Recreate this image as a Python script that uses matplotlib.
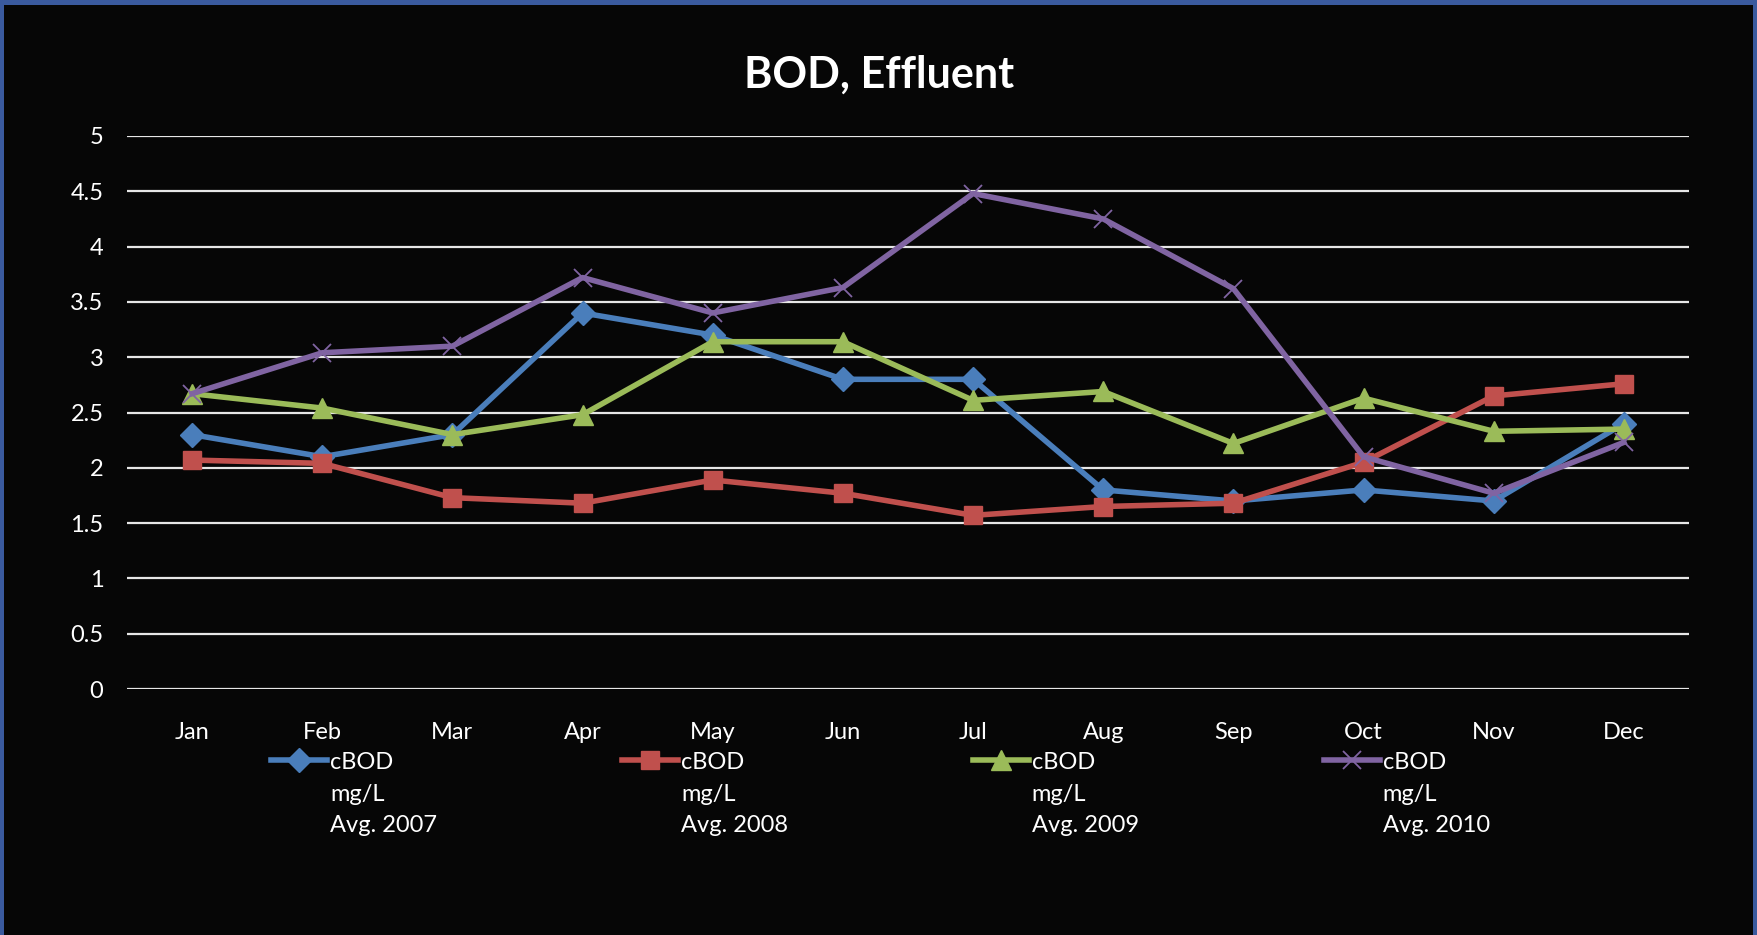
#!/usr/bin/env python3
"""BOD, Effluent - monthly cBOD averages 2007-2010."""
import matplotlib

matplotlib.use("Agg")
import matplotlib.pyplot as plt
from matplotlib.patches import Rectangle
from matplotlib.ticker import FuncFormatter

months = ["Jan", "Feb", "Mar", "Apr", "May", "Jun",
          "Jul", "Aug", "Sep", "Oct", "Nov", "Dec"]

cbod_2007 = [2.30, 2.10, 2.30, 3.40, 3.20, 2.80, 2.80, 1.80, 1.70, 1.80, 1.70, 2.40]
cbod_2008 = [2.07, 2.04, 1.73, 1.68, 1.89, 1.77, 1.57, 1.65, 1.68, 2.05, 2.65, 2.76]
cbod_2009 = [2.67, 2.54, 2.30, 2.48, 3.14, 3.14, 2.61, 2.69, 2.22, 2.63, 2.33, 2.35]
cbod_2010 = [2.67, 3.04, 3.10, 3.72, 3.40, 3.63, 4.48, 4.25, 3.62, 2.10, 1.77, 2.23]

series_labels = ["cBOD\nmg/L\nAvg. 2007", "cBOD\nmg/L\nAvg. 2008",
                 "cBOD\nmg/L\nAvg. 2009", "cBOD\nmg/L\nAvg. 2010"]
y_ticks = [0, 0.5, 1, 1.5, 2, 2.5, 3, 3.5, 4, 4.5, 5]

W, H = 1758, 935
BG = "#060606"
FRAME = "#3a5a9e"
FONT = ["Lato", "DejaVu Sans"]

plt.rcParams["font.family"] = FONT

fig = plt.figure(figsize=(W / 100, H / 100), dpi=100)
fig.patch.set_facecolor(FRAME)
# black slide area inside the thin blue frame
fig.add_artist(Rectangle((4 / W, 0), (W - 9) / W, (H - 5) / H,
                         transform=fig.transFigure, facecolor=BG,
                         edgecolor="none", zorder=0))

ax = fig.add_axes([127 / W, 246 / H, 1562 / W, 553 / H])
ax.set_facecolor(BG)
ax.patch.set_alpha(0)

x = list(range(len(months)))
styles = [
    (cbod_2007, "#4a7ebb", "D", 12, 1),
    (cbod_2008, "#c0504d", "s", 13.5, 1),
    (cbod_2009, "#9bbb59", "^", 14, 1),
    (cbod_2010, "#8064a2", "x", 13, 1.3),
]
for (vals, color, marker, ms, mew), label in zip(styles, series_labels):
    ax.plot(x, vals, color=color, lw=4, marker=marker, ms=ms,
            mec=color, mfc=color, mew=mew, label=label, zorder=3)

ax.set_xlim(-0.5, len(months) - 0.5)
ax.set_ylim(0, 5)
ax.set_yticks(y_ticks)
ax.yaxis.set_major_formatter(FuncFormatter(lambda v, _p: f"{v:g}"))
ax.set_xticks(x)
ax.set_xticklabels(months)
ax.tick_params(axis="both", length=0, colors="white", labelsize=17)
ax.tick_params(axis="y", pad=17)
ax.tick_params(axis="x", pad=24)
ax.grid(axis="y", color="#e6e6e6", lw=1.6, zorder=1)
ax.set_axisbelow(True)
for spine in ax.spines.values():
    spine.set_visible(False)

fig.text(0.5, 1 - 75 / H, "BOD, Effluent", color="white", fontsize=31,
         fontweight="bold", ha="center", va="center")

leg = ax.legend(loc="upper left", bbox_to_anchor=(271 / W, 1 - 752 / H),
                bbox_transform=fig.transFigure, ncol=4, frameon=False,
                fontsize=17, handlelength=2.37, handletextpad=0.13,
                columnspacing=7.83, borderpad=0, borderaxespad=0,
                labelspacing=0, labelcolor="white")
# keep the marker next to the first line of each label, as in the original
for col in leg._legend_handle_box.get_children():
    for item in col.get_children():
        item.align = "top"
for text in leg.get_texts():
    text.set_linespacing(1.62)

fig.savefig("out.png", dpi=100, facecolor=fig.get_facecolor())
